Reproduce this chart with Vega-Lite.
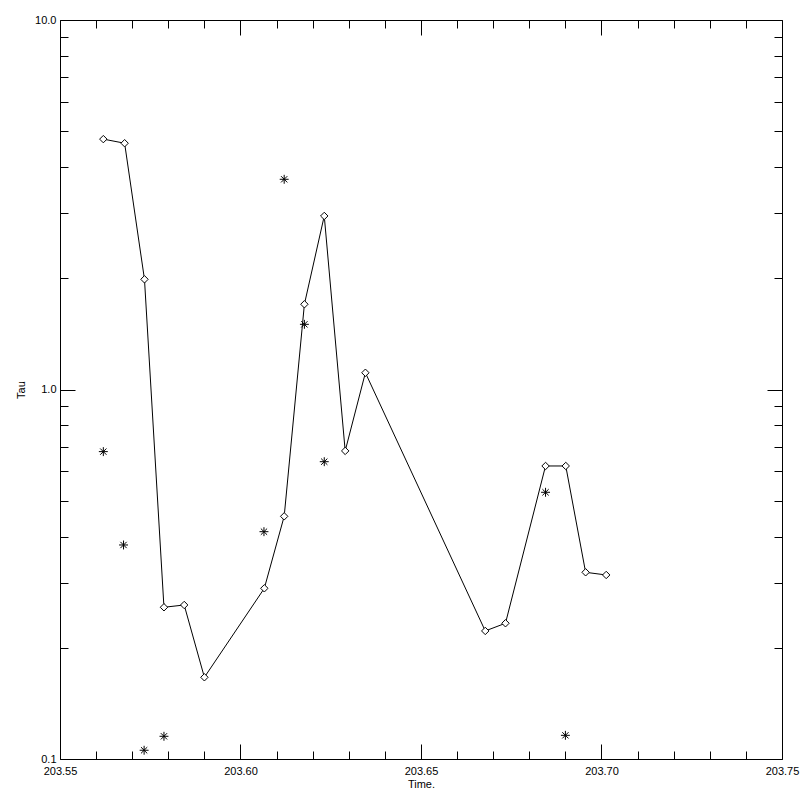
{
  "$schema": "https://vega.github.io/schema/vega-lite/v6.json",
  "autosize": {"type": "none"},
  "padding": {"left": 60, "top": 20, "right": 18, "bottom": 41},
  "width": 722,
  "height": 739,
  "background": "white",
  "config": {
    "view": {"stroke": "black", "strokeWidth": 1},
    "axis": {
      "grid": false,
      "domain": false,
      "tickColor": "black",
      "tickWidth": 1,
      "labelColor": "black",
      "titleColor": "black",
      "labelFont": "Liberation Sans",
      "titleFont": "Liberation Sans",
      "labelFontSize": 11,
      "titleFontSize": 11,
      "titleFontWeight": "normal",
      "labelFlush": false,
      "labelOverlap": false,
      "labelBound": false
    }
  },
  "datasets": {
    "tau": [
      {"time": 203.5620, "tau": 4.76},
      {"time": 203.5679, "tau": 4.64},
      {"time": 203.5734, "tau": 1.987},
      {"time": 203.5788, "tau": 0.2574},
      {"time": 203.5844, "tau": 0.2611},
      {"time": 203.5900, "tau": 0.1664},
      {"time": 203.6066, "tau": 0.2897},
      {"time": 203.6121, "tau": 0.4537},
      {"time": 203.6177, "tau": 1.701},
      {"time": 203.6232, "tau": 2.949},
      {"time": 203.6290, "tau": 0.682},
      {"time": 203.6346, "tau": 1.110},
      {"time": 203.6678, "tau": 0.2221},
      {"time": 203.6734, "tau": 0.2330},
      {"time": 203.6845, "tau": 0.6209},
      {"time": 203.6901, "tau": 0.6209},
      {"time": 203.6956, "tau": 0.3201},
      {"time": 203.7013, "tau": 0.3148}
    ],
    "star": [
      {"time": 203.5620, "tau": 0.679},
      {"time": 203.5676, "tau": 0.3795},
      {"time": 203.5733, "tau": 0.1056},
      {"time": 203.5788, "tau": 0.1152},
      {"time": 203.6065, "tau": 0.4123},
      {"time": 203.6121, "tau": 3.706},
      {"time": 203.6177, "tau": 1.501},
      {"time": 203.6232, "tau": 0.6377},
      {"time": 203.6845, "tau": 0.527},
      {"time": 203.6900, "tau": 0.1159}
    ]
  },
  "resolve": {"axis": {"x": "independent", "y": "independent"}},
  "layer": [
    {
      "data": {"name": "tau"},
      "mark": {"type": "line", "color": "black", "strokeWidth": 1},
      "encoding": {
        "x": {
          "field": "time", "type": "quantitative",
          "scale": {"domain": [203.55, 203.75], "nice": false, "zero": false},
          "axis": {
            "orient": "bottom",
            "values": [203.55, 203.56, 203.57, 203.58, 203.59, 203.60, 203.61, 203.62, 203.63, 203.64, 203.65, 203.66, 203.67, 203.68, 203.69, 203.70, 203.71, 203.72, 203.73, 203.74, 203.75],
            "labelExpr": "round(datum.value*100) % 5 == 0 ? format(datum.value, '.2f') : ''",
            "tickSize": {"condition": {"test": "round(datum.value*100) % 5 == 0", "value": -15}, "value": -8},
            "labelPadding": 21,
            "title": "Time.",
            "titlePadding": -5
          }
        },
        "y": {
          "field": "tau", "type": "quantitative",
          "scale": {"type": "log", "domain": [0.1, 10], "nice": false},
          "axis": {
            "orient": "left",
            "values": [0.1, 0.2, 0.3, 0.4, 0.5, 0.6, 0.7, 0.8, 0.9, 1, 2, 3, 4, 5, 6, 7, 8, 9, 10],
            "labelExpr": "(datum.value == 0.1 || datum.value == 1 || datum.value == 10) ? format(datum.value, '.1f') : ''",
            "tickSize": {"condition": {"test": "datum.value == 0.1 || datum.value == 1 || datum.value == 10", "value": -15}, "value": -8},
            "labelPadding": 19,
            "title": "Tau",
            "titlePadding": 8
          }
        }
      }
    },
    {
      "data": {"name": "tau"},
      "mark": {"type": "point", "shape": "diamond", "size": 55, "filled": true, "fill": "white", "stroke": "black", "strokeWidth": 1, "opacity": 1},
      "encoding": {
        "x": {
          "field": "time", "type": "quantitative",
          "axis": {
            "orient": "top",
            "values": [203.55, 203.56, 203.57, 203.58, 203.59, 203.60, 203.61, 203.62, 203.63, 203.64, 203.65, 203.66, 203.67, 203.68, 203.69, 203.70, 203.71, 203.72, 203.73, 203.74, 203.75],
            "labels": false,
            "tickSize": {"condition": {"test": "round(datum.value*100) % 5 == 0", "value": -15}, "value": -8},
            "title": null
          }
        },
        "y": {
          "field": "tau", "type": "quantitative",
          "axis": {
            "orient": "right",
            "values": [0.1, 0.2, 0.3, 0.4, 0.5, 0.6, 0.7, 0.8, 0.9, 1, 2, 3, 4, 5, 6, 7, 8, 9, 10],
            "labels": false,
            "tickSize": {"condition": {"test": "datum.value == 0.1 || datum.value == 1 || datum.value == 10", "value": -15}, "value": -8},
            "title": null
          }
        }
      }
    },
    {
      "data": {"name": "star"},
      "mark": {"type": "point", "shape": "M-1,0L1,0M0,-1L0,1M-0.7,-0.7L0.7,0.7M-0.7,0.7L0.7,-0.7", "size": 80, "filled": false, "stroke": "black", "strokeWidth": 1, "opacity": 1},
      "encoding": {
        "x": {"field": "time", "type": "quantitative", "axis": null},
        "y": {"field": "tau", "type": "quantitative", "axis": null}
      }
    }
  ]
}
